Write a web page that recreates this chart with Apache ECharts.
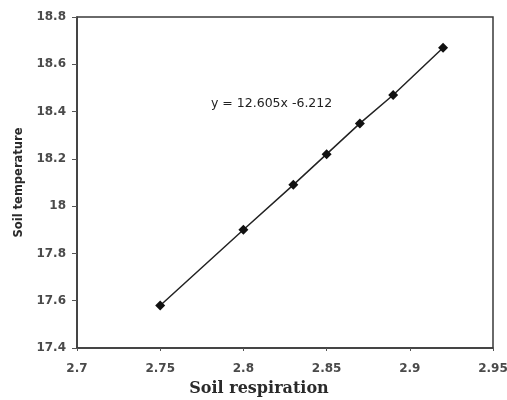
<!DOCTYPE html>
<html>
<head>
<meta charset="utf-8">
<script src="https://cdn.jsdelivr.net/npm/echarts@6/dist/echarts.min.js"></script>
<style>
  html, body { margin: 0; padding: 0; background: #ffffff; }
  #chart { width: 507px; height: 400px; }
</style>
</head>
<body>
<div id="chart"></div>
<script>
// Soil respiration (x) against soil temperature (y)
const respiration = [2.75, 2.80, 2.83, 2.85, 2.87, 2.89, 2.92];
const temperature = [17.58, 17.90, 18.09, 18.22, 18.35, 18.47, 18.67];
const xTicks = [2.7, 2.75, 2.8, 2.85, 2.9, 2.95];
const yTicks = [17.4, 17.6, 17.8, 18, 18.2, 18.4, 18.6, 18.8];
const equation = 'y = 12.605x -6.212';
const xTitle = 'Soil respiration';
const yTitle = 'Soil temperature';

const points = respiration.map((x, i) => [x, temperature[i]]);

const chart = echarts.init(document.getElementById('chart'), null, { renderer: 'canvas' });
chart.setOption({
  animation: false,
  backgroundColor: '#ffffff',
  grid: {
    left: 77, right: 14, top: 17, bottom: 52,
    outerBoundsMode: 'none',
    containLabel: false,
    show: true, borderColor: '#3a3a3a', borderWidth: 1.5, backgroundColor: 'transparent'
  },
  xAxis: {
    type: 'value',
    min: xTicks[0], max: xTicks[xTicks.length - 1], interval: 0.05,
    axisLine: { show: true, lineStyle: { color: '#3a3a3a', width: 1.5 } },
    axisTick: { show: true, length: 3, lineStyle: { color: '#555' } },
    splitLine: { show: false },
    axisLabel: {
      fontFamily: 'DejaVu Sans', fontSize: 12, fontWeight: 'bold', color: '#4a4a4a', margin: 15,
      formatter: v => String(Math.round(v * 100) / 100)
    }
  },
  yAxis: {
    type: 'value',
    min: yTicks[0], max: yTicks[yTicks.length - 1], interval: 0.2,
    name: yTitle,
    nameLocation: 'middle', nameGap: 46, nameRotate: 90,
    nameTextStyle: { fontFamily: 'DejaVu Sans', fontSize: 11.5, fontWeight: 'bold', color: '#2a2a2a' },
    axisLine: { show: true, lineStyle: { color: '#3a3a3a', width: 1.5 } },
    axisTick: { show: true, length: 5, lineStyle: { color: '#555' } },
    splitLine: { show: false },
    axisLabel: {
      fontFamily: 'DejaVu Sans', fontSize: 12, fontWeight: 'bold', color: '#4a4a4a', margin: 11,
      formatter: v => String(Math.round(v * 10) / 10)
    }
  },
  graphic: [
    {
      type: 'text',
      left: 211, top: 97,
      style: { text: equation, font: '12.5px "DejaVu Sans"', fill: '#222' }
    },
    {
      type: 'text',
      x: 259, y: 389,
      style: {
        text: xTitle, font: 'bold 16px "DejaVu Serif"', fill: '#2a2a2a',
        textAlign: 'center', textVerticalAlign: 'middle'
      }
    }
  ],
  series: [{
    type: 'line',
    data: points,
    symbol: 'diamond',
    symbolSize: 10,
    lineStyle: { color: '#222', width: 1.5 },
    itemStyle: { color: '#111' }
  }]
});
</script>
</body>
</html>
